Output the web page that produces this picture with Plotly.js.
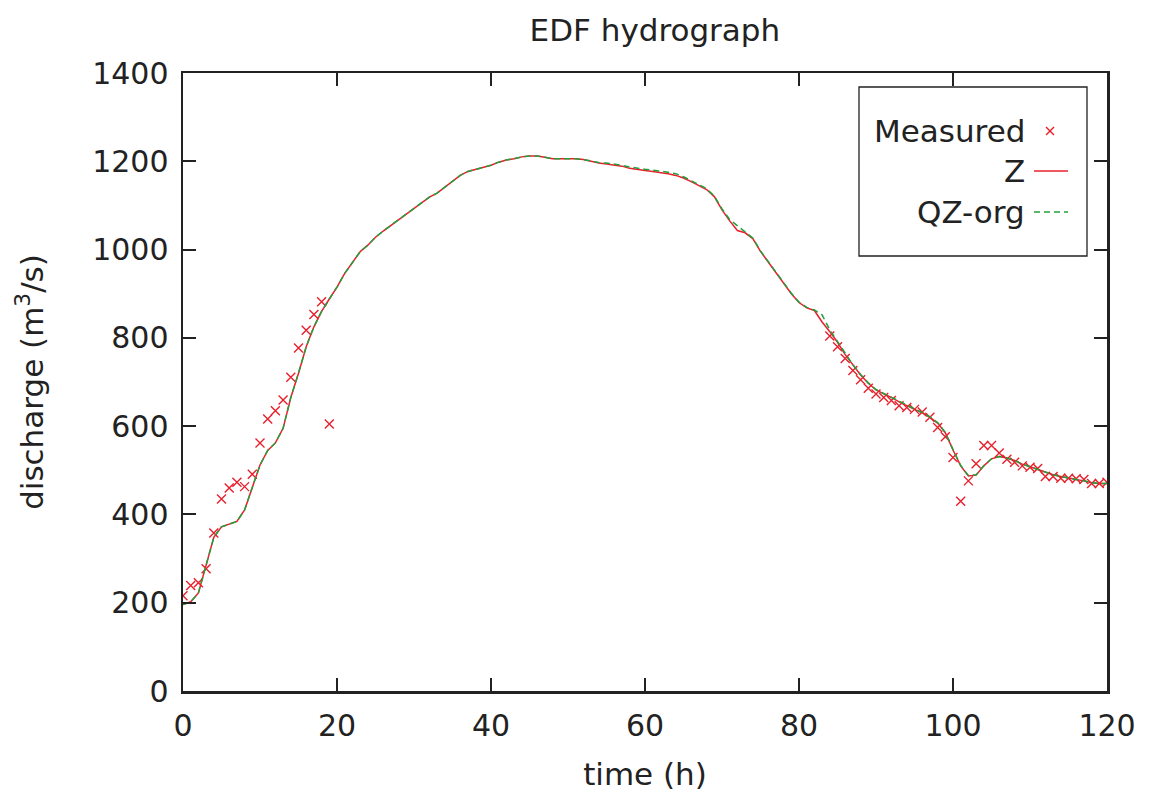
<!DOCTYPE html>
<html>
<head>
<meta charset="utf-8">
<script src="https://cdn.plot.ly/plotly-3.0.1.min.js"></script>
<style>html,body{margin:0;padding:0;background:#fff;}#chart{width:1153px;height:794px;}</style>
</head>
<body>
<div id="chart"></div>
<script>
// Measured discharge (m3/s) vs time (h)
const measuredTime = [0,1,2,3,4,5,6,7,8,9,10,11,12,13,14,15,16,17,18,19,
  84,85,86,87,88,89,90,91,92,93,94,95,96,97,98,99,100,101,102,103,104,105,106,107,108,109,110,111,112,113,114,115,116,117,118,119,120];
const measuredQ = [216,239,245,277,358,435,460,473,463,491,562,616,635,659,711,777,817,853,882,605,
  804,780,753,726,705,686,673,665,658,646,642,638,632,620,597,576,529,430,476,515,556,556,539,525,518,510,507,504,486,486,482,482,481,479,470,470,473];

// Simulated series, hourly
const lineTime = [0,1,2,3,4,5,6,7,8,9,10,11,12,13,14,15,16,17,18,19,20,
  21,22,23,24,25,26,27,28,29,30,31,32,33,34,35,36,37,38,39,40,
  41,42,43,44,45,46,47,48,49,50,51,52,53,54,55,56,57,58,59,60,
  61,62,63,64,65,66,67,68,69,70,71,72,73,74,75,76,77,78,79,80,
  81,82,83,84,85,86,87,88,89,90,91,92,93,94,95,96,97,98,99,100,
  101,102,103,104,105,106,107,108,109,110,111,112,113,114,115,116,117,118,119,120];
const zQ = [196,202,222,283,348,372,378,384,410,462,512,545,562,595,665,720,780,825,860,888,915,
  946,972,995,1010,1028,1042,1055,1068,1080,1092,1106,1119,1128,1142,1155,1168,1177,1182,1187,1191,
  1198,1203,1206,1210,1212,1212,1209,1206,1206,1206,1206,1204,1200,1196,1194,1192,1189,1184,1181,1179,
  1177,1175,1172,1168,1162,1154,1145,1136,1120,1090,1065,1043,1038,1025,996,972,946,922,900,880,
  868,862,836,814,790,762,738,716,697,682,673,665,655,646,638,630,620,607,585,546,
  510,487,489,510,526,531,528,522,514,508,502,497,490,486,482,479,476,472,470,470];
const qzOrgQ = [196,202,222,283,348,372,378,384,410,462,512,545,562,595,665,720,780,825,860,888,915,
  946,972,995,1010,1028,1042,1055,1068,1080,1092,1106,1119,1128,1142,1155,1168,1177,1182,1187,1191,
  1198,1203,1206,1210,1212,1212,1209,1206,1206,1206,1206,1204,1200,1197,1196,1194,1191,1187,1184,1182,
  1180,1178,1175,1172,1165,1156,1147,1138,1121,1092,1068,1054,1042,1026,997,973,947,923,901,881,
  869,863,852,818,791,763,739,717,698,683,674,666,656,647,639,631,621,608,586,547,
  511,488,490,510,526,531,528,522,514,508,502,497,490,486,482,479,476,472,470,470];

const xTicks = [0,20,40,60,80,100,120];
const yTicks = [0,200,400,600,800,1000,1200,1400];
const legendLabels = ['Measured','Z','QZ-org'];

const RED = '#e8202c';
const GREEN = '#22a03c';
const INK = '#222222';
const FONT = 'DejaVu Sans, sans-serif';

const traces = [
  {x: measuredTime, y: measuredQ, mode: 'markers', type: 'scatter', name: legendLabels[0],
   marker: {symbol: 'x-thin-open', size: 9, color: RED, line: {color: RED, width: 1.4}}},
  {x: lineTime, y: zQ, mode: 'lines', type: 'scatter', name: legendLabels[1],
   line: {color: RED, width: 1.5}},
  {x: lineTime, y: qzOrgQ, mode: 'lines', type: 'scatter', name: legendLabels[2],
   line: {color: GREEN, width: 1.5, dash: '6px,4px'}}
];

// custom legend (symbols on the right, like the original)
const L = 183, R = 1107, T = 73, B = 691;
const px = v => (v - L) / (R - L);
const py = v => (B - v) / (B - T);
const rows = [131, 171, 212];
const shapes = [
  {type: 'rect', xref: 'paper', yref: 'paper', x0: px(859), x1: px(1087), y0: py(256), y1: py(87),
   line: {color: INK, width: 1.3}, fillcolor: 'rgba(0,0,0,0)'},
  {type: 'line', xref: 'paper', yref: 'paper', x0: px(1046), x1: px(1054), y0: py(rows[0]-4), y1: py(rows[0]+4), line: {color: RED, width: 1.4}},
  {type: 'line', xref: 'paper', yref: 'paper', x0: px(1046), x1: px(1054), y0: py(rows[0]+4), y1: py(rows[0]-4), line: {color: RED, width: 1.4}},
  {type: 'line', xref: 'paper', yref: 'paper', x0: px(1034), x1: px(1068), y0: py(rows[1]), y1: py(rows[1]), line: {color: RED, width: 1.5}},
  {type: 'line', xref: 'paper', yref: 'paper', x0: px(1034), x1: px(1068), y0: py(rows[2]), y1: py(rows[2]), line: {color: GREEN, width: 1.5, dash: '6px,4px'}}
];
const annotations = legendLabels.map((t, i) => ({
  text: t, xref: 'paper', yref: 'paper', x: px(1027), y: py(rows[i]), xanchor: 'right', yanchor: 'middle',
  showarrow: false, font: {family: FONT, size: 31, color: INK}
}));

const axisCommon = {
  showgrid: false, zeroline: false, showline: true, linecolor: INK, linewidth: 2.5,
  mirror: 'ticks', ticks: 'inside', ticklen: 13, tickwidth: 2, tickcolor: INK,
  tickfont: {family: FONT, size: 30, color: INK}
};

const layout = {
  width: 1153, height: 794,
  margin: {l: L, r: 1153 - R, t: T, b: 794 - B},
  paper_bgcolor: '#ffffff', plot_bgcolor: '#ffffff',
  showlegend: false,
  title: {text: 'EDF hydrograph', font: {family: FONT, size: 31, color: INK}, x: 0.568, xanchor: 'center', y: 0.962, yanchor: 'middle'},
  xaxis: Object.assign({}, axisCommon, {
    range: [0, 120], tickvals: xTicks, ticktext: xTicks.map(String), ticklabelstandoff: 6,
    title: {text: 'time (h)', font: {family: FONT, size: 31, color: INK}, standoff: 22}
  }),
  yaxis: Object.assign({}, axisCommon, {
    range: [0, 1400], tickvals: yTicks, ticktext: yTicks.map(String), ticklabelstandoff: 6,
    title: {text: 'discharge (m<sup>3</sup>/s)', font: {family: FONT, size: 31, color: INK}, standoff: 40}
  }),
  shapes: shapes,
  annotations: annotations
};

Plotly.newPlot('chart', traces, layout, {displayModeBar: false, staticPlot: true});
</script>
</body>
</html>
